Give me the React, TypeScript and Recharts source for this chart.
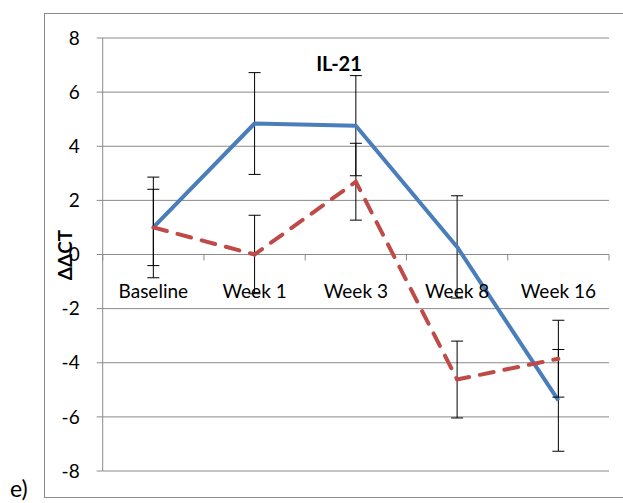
import { LineChart, Line, XAxis, YAxis, CartesianGrid, ErrorBar, ReferenceLine, ReferenceDot } from "recharts";

const categories = ["Baseline", "Week 1", "Week 3", "Week 8", "Week 16"];
const blueValues = [1.0, 4.84, 4.76, 0.28, -5.39];
const blueErrors = [1.86, 1.88, 1.85, 1.89, 1.88];
const redValues = [1.0, 0.0, 2.69, -4.62, -3.85];
const redErrors = [1.41, 1.45, 1.42, 1.42, 1.42];
const yTicks = [-8, -6, -4, -2, 0, 2, 4, 6, 8];

const data = categories.map((name, i) => ({
  name,
  blue: blueValues[i],
  blueErr: blueErrors[i],
  red: redValues[i],
  redErr: redErrors[i],
}));

const FONT = "Lato, 'Noto Sans', sans-serif";
const GRID = "#8a8a8a";

// horizontal axis line at zero with tick marks on category boundaries
const ZeroAxis = (props: any) => {
  const { x1, x2, y1 } = props;
  const n = categories.length;
  const step = (x2 - x1) / n;
  const marks = [];
  for (let i = 0; i <= n; i++) {
    const x = x1 + step * i;
    marks.push(<line key={i} x1={x} x2={x} y1={y1} y2={y1 + 6} stroke={GRID} strokeWidth={1} />);
  }
  return (
    <g>
      <line x1={x1} x2={x2} y1={y1} y2={y1} stroke={GRID} strokeWidth={1} />
      {marks}
    </g>
  );
};

export default function App() {
  return (
    <div style={{ position: "absolute", left: 0, top: 0, width: 623, height: 503, background: "#fff", fontFamily: FONT }}>
      <div
        style={{
          position: "absolute",
          left: 43.5,
          top: 12.5,
          width: 600,
          height: 483,
          borderLeft: `1px solid ${GRID}`,
          borderTop: `1px solid ${GRID}`,
          borderBottom: `1px solid ${GRID}`,
        }}
      />
      <LineChart
        width={623}
        height={503}
        data={data}
        margin={{ top: 38, right: 14, bottom: 32, left: 42.7 }}
        style={{ position: "absolute", left: 0, top: 0 }}
      >
        <CartesianGrid vertical={false} stroke={GRID} strokeWidth={1} />
        <XAxis dataKey="name" scale="band" hide />
        <YAxis
          domain={[-8, 8]}
          ticks={yTicks}
          width={60}
          axisLine={{ stroke: GRID }}
          tickLine={{ stroke: GRID }}
          tickSize={6}
          tickMargin={17}
          tick={{ fill: "#000", fontSize: 19, fontFamily: FONT }}
        />
        <ReferenceLine y={0} shape={<ZeroAxis />} />
        {categories.map((c) => (
          <ReferenceDot
            key={c}
            x={c}
            y={0}
            r={0}
            fill="none"
            stroke="none"
            label={{ value: c, position: "bottom", offset: 30, fill: "#000", fontSize: 19, fontFamily: FONT }}
          />
        ))}
        <Line
          dataKey="blue"
          stroke="#4A7EBB"
          strokeWidth={4}
          dot={false}
          isAnimationActive={false}
          strokeLinejoin="round"
        >
          <ErrorBar dataKey="blueErr" width={6} stroke="#000" strokeWidth={1} />
        </Line>
        <Line
          dataKey="red"
          stroke="#BE4B48"
          strokeWidth={4}
          strokeDasharray="14 11"
          strokeLinecap="round"
          dot={false}
          isAnimationActive={false}
        >
          <ErrorBar dataKey="redErr" width={6} stroke="#000" strokeWidth={1} />
        </Line>
      </LineChart>
      <div
        style={{
          position: "absolute",
          left: 339,
          top: 63,
          transform: "translate(-50%, -50%)",
          fontWeight: "bold",
          fontSize: 20,
          color: "#000",
        }}
      >
        IL-21
      </div>
      <div
        style={{
          position: "absolute",
          left: 63.5,
          top: 255,
          transform: "translate(-50%, -50%) rotate(-90deg)",
          fontWeight: "bold",
          fontSize: 19,
          color: "#000",
          whiteSpace: "nowrap",
        }}
      >
        ΔΔCT
      </div>
      <div style={{ position: "absolute", left: 10, top: 474, fontSize: 23, color: "#000" }}>e)</div>
    </div>
  );
}
